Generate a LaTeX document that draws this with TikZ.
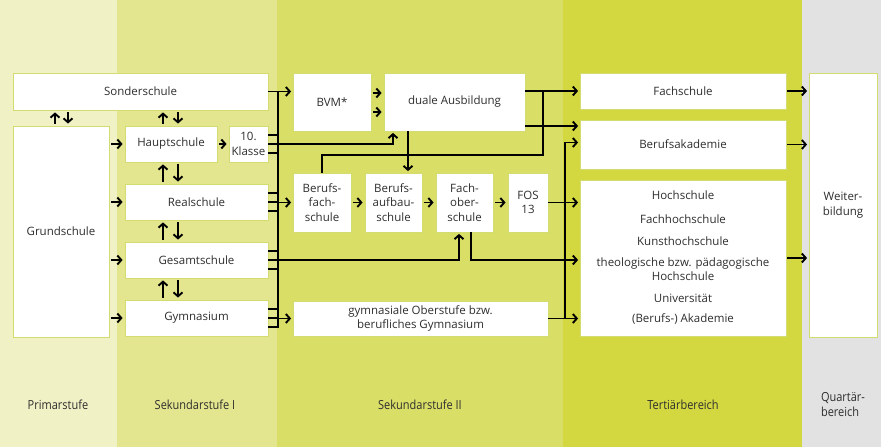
\documentclass[tikz,border=0pt]{standalone}
\usepackage{fontspec}
\setmainfont{Open Sans}
\newfontfamily\stagefont[FakeStretch=0.88]{Open Sans}
\usepackage{tikz}
\usetikzlibrary{arrows.meta}
\usepackage{xcolor}
\definecolor{primar}{HTML}{F1F1C6}
\definecolor{sekI}{HTML}{E3E68E}
\definecolor{sekII}{HTML}{D9DE66}
\definecolor{tert}{HTML}{D3D840}
\definecolor{quart}{HTML}{E2E2E2}
\definecolor{boxline}{HTML}{D2DC70}
\definecolor{ink}{HTML}{2E2E2E}

\begin{document}
\begin{tikzpicture}[x=1pt, y=-1pt,
	box/.style={draw=boxline, fill=white, line width=0.8pt, inner sep=1pt, align=center, text=ink, font=\fontsize{11.5}{14.5}\selectfont},
	arr/.style={line width=1.9pt, -{Straight Barb[length=4pt,width=9pt]}, shorten >=1.5pt},
	wire/.style={line width=1.9pt},
	gap/.style={shorten <=2pt, shorten >=2pt},
	stage/.style={text=ink, align=left, font=\stagefont\fontsize{12.5}{15}\selectfont}]
	\useasboundingbox (0,0) rectangle (881,447);
	% columns
	\fill[primar] (0,0) rectangle (117,447);
	\fill[sekI] (117,0) rectangle (277,447);
	\fill[sekII] (277,0) rectangle (563,447);
	\fill[tert] (563,0) rectangle (802,447);
	\fill[quart] (802,0) rectangle (881,447);
	
	\node[box, minimum width=255, minimum height=37] (sonder) at (140.5, 91.5) {Sonderschule};
	\node[box, minimum width=96, minimum height=211] (grund) at (61, 231.5) {Grundschule};
	\node[box, minimum width=92, minimum height=36] (haupt) at (171, 144) {Hauptschule};
	\node[box, minimum width=39, minimum height=36] (klasse) at (248.5, 144) {10.\\Klasse};
	\node[box, minimum width=143, minimum height=36] (real) at (196.5, 202) {Realschule};
	\node[box, minimum width=143, minimum height=36] (gesamt) at (196.5, 260) {Gesamtschule};
	\node[box, minimum width=143, minimum height=36] (gymn) at (196.5, 318) {Gymnasium};
	
	\node[box, minimum width=78, minimum height=58] (bvm) at (332, 102) {BVM*};
	\node[box, minimum width=141, minimum height=58] (dual) at (454.5, 102) {duale Ausbildung};
	\node[box, minimum width=58, minimum height=59] (bfs) at (322, 202.5) {Berufs-\\fach-\\schule};
	\node[box, minimum width=57, minimum height=59] (bas) at (393.5, 202.5) {Berufs-\\aufbau-\\schule};
	\node[box, minimum width=57, minimum height=59] (fos) at (464.5, 202.5) {Fach-\\ober-\\schule};
	\node[box, minimum width=40, minimum height=59] (fos13) at (528, 202.5) {FOS\\13};
	\node[box, minimum width=255, minimum height=35] (gymo) at (420.5, 318.5) {gymnasiale Oberstufe bzw.\\berufliches Gymnasium};
	
	\node[box, minimum width=206, minimum height=36] (fach) at (683, 91) {Fachschule};
	\node[box, minimum width=206, minimum height=49] (ba) at (683, 144.5) {Berufsakademie};
	\node[box, minimum width=206, minimum height=156] (hoch) at (683, 258) {Hochschule\\[9pt] Fachhochschule\\[8pt] Kunsthochschule\\[6pt] theologische bzw. pädagogische\\ Hochschule\\[7pt] Universität\\[6pt] (Berufs-) Akademie};
	\node[box, minimum width=68, minimum height=264] (weiter) at (843, 205) {Weiter-\\bildung};
	
	\node[stage] (lprimar) at (58, 405) {Primarstufe};
	\node[stage] (lsekI) at (195, 405) {Sekundarstufe I};
	\node[stage] (lsekII) at (420, 405) {Sekundarstufe II};
	\node[stage] (ltert) at (683, 405) {Tertiärbereich};
	\node[stage] (lquart) at (843, 405) {Quartär-\\bereich};
	
	% helper columns
	\coordinate (up) at (163, 0);
	\coordinate (dn) at (178, 0);
	\coordinate (trunkL) at (278, 0);
	\coordinate (trunkR) at (565, 0);
	\coordinate (kd) at (393, 0);
	\coordinate (db) at (408, 0);
	\coordinate (gf) at (459, 0);
	\coordinate (fh) at (471, 0);
	\coordinate (jn) at (543, 155);
	\coordinate (gb) at ([yshift=-9pt]gymn.east);
	\coordinate (bain) at ([yshift=2pt]ba.west);
	
	% Primarstufe / Sekundarstufe I
	\draw[arr, gap] ([xshift=-6pt]grund.north) -- ([xshift=-6pt]grund.north |- sonder.south);
	\draw[arr, gap] ([xshift=7pt]grund.north |- sonder.south) -- ([xshift=7pt]grund.north);
	\foreach \a/\b in {haupt/sonder, real/haupt, gesamt/real, gymn/gesamt} {
		\draw[arr, gap] (up |- \a.north) -- (up |- \b.south);
		\draw[arr, gap] (dn |- \b.south) -- (dn |- \a.north);
	}
	\foreach \n in {haupt, real, gesamt, gymn}
		\draw[arr, gap] (grund.east |- \n) -- (\n.west);
	\draw[arr, gap] (haupt.east) -- (klasse.west);
	
	% trunk into Sekundarstufe II
	\draw[wire, line cap=rect] (trunkL |- sonder.east) -- (trunkL |- gb);
	\foreach \n in {klasse, real, gesamt, gymn}
		\foreach \d in {-9, 0, 9}
			\draw[wire] ([yshift=\d pt]\n.east) -- ++(10, 0);
	\draw[arr] (sonder.east) -- (bvm.west |- sonder.east);
	\draw[arr] (trunkL |- bfs.west) -- (bfs.west);
	\draw[arr] (trunkL |- gymo.west) -- (gymo.west);
	\draw[arr] (klasse.east) -- (kd |- klasse.east) -- (kd |- dual.south);
	\draw[arr] (gesamt.east) -- (gf |- gesamt.east) -- (gf |- fos.south);
	
	% Sekundarstufe II
	\draw[arr, gap] ([yshift=9pt]bvm.east) -- ([yshift=9pt]dual.west);
	\draw[arr, gap] ([yshift=-10pt]bvm.east) -- ([yshift=-10pt]dual.west);
	\draw[arr] (db |- dual.south) -- (db |- bas.north);
	\draw[arr, gap] (bfs.east) -- (bas.west);
	\draw[arr, gap] (bas.east) -- (fos.west);
	\draw[arr, gap] (fos.east) -- (fos13.west);
	\draw[wire] (bfs.north) -- (bfs.north |- jn) -- (jn) -- (jn |- fach.west);
	
	% into Tertiaerbereich
	\draw[arr] (dual.east |- fach.west) -- (fach.west);
	\draw[arr] ([yshift=-24pt]dual.east) -- ([yshift=-24pt]dual.east -| ba.west);
	\draw[arr] (trunkR |- gymo.east) -- (trunkR |- bain) -- (bain);
	\draw[arr] (fos13.east) -- (hoch.west |- fos13.east);
	\draw[arr] (fh |- fos.south) -- (fh |- gesamt.east) -- (hoch.west |- gesamt.east);
	\draw[arr] (gymo.east) -- (hoch.west |- gymo.east);
	
	% into Quartaerbereich
	\foreach \n in {fach, ba, hoch}
		\draw[arr, shorten <=1pt] (\n.east) -- (weiter.west |- \n.east);
\end{tikzpicture}
\end{document}
